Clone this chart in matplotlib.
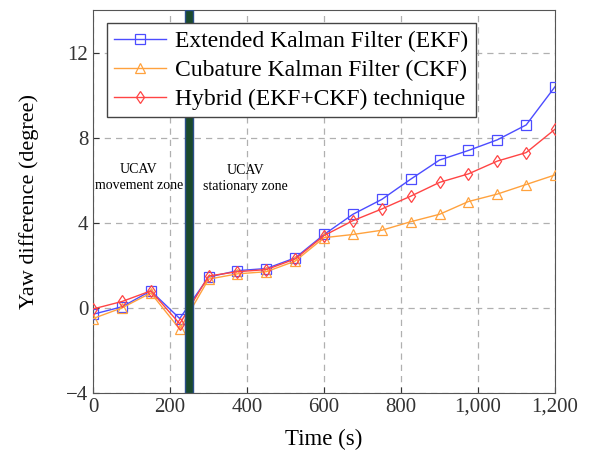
import matplotlib
matplotlib.use("Agg")
import matplotlib.pyplot as plt

time = [0, 75, 150, 225, 300, 375, 450, 525, 600, 675, 750, 825, 900, 975, 1050, 1125, 1200]
ekf = [-0.3, 0.05, 0.8, -0.5, 1.45, 1.75, 1.85, 2.35, 3.45, 4.4, 5.1, 6.05, 6.95, 7.4, 7.9, 8.6, 10.4]
ckf = [-0.5, 0.0, 0.7, -1.0, 1.35, 1.6, 1.7, 2.2, 3.3, 3.45, 3.65, 4.05, 4.4, 5.0, 5.35, 5.8, 6.25]
hyb = [-0.05, 0.3, 0.8, -0.75, 1.5, 1.7, 1.8, 2.3, 3.4, 4.1, 4.65, 5.25, 5.9, 6.3, 6.9, 7.3, 8.4]
labels = ["Extended Kalman Filter (EKF)", "Cubature Kalman Filter (CKF)", "Hybrid (EKF+CKF) technique"]
xticks = [0, 200, 400, 600, 800, 1000, 1200]
xticklabels = ["0", "200", "400", "600", "800", "1,000", "1,200"]
yticks = [-4, 0, 4, 8, 12]

plt.rcParams['font.family'] = ['Liberation Serif', 'DejaVu Serif']
plt.rcParams['axes.unicode_minus'] = True

fig = plt.figure(figsize=(5.93, 4.58), dpi=100)
ax = fig.add_axes([0.157, 0.142, 0.779, 0.836])

ax.axvspan(240, 260, facecolor='#1b4a2c', edgecolor='#2b4f8a', linewidth=1.0, zorder=4)

ax.plot(time, ekf, color='#4c4cff', marker='s', markersize=7.5, markerfacecolor='none',
        markeredgewidth=0.9, linewidth=1.0, label=labels[0], zorder=3)
ax.plot(time, ckf, color='#ffa23e', marker='^', markersize=6.5, markerfacecolor='none',
        markeredgewidth=0.9, linewidth=1.0, label=labels[1], zorder=3)
ax.plot(time, hyb, color='#ff4444', marker='d', markersize=6.5, markerfacecolor='none',
        markeredgewidth=0.9, linewidth=1.0, label=labels[2], zorder=3)

ax.set_xlim(0, 1200)
ax.set_ylim(-4, 14)
ax.set_xticks(xticks)
ax.set_xticklabels(xticklabels)
ax.set_yticks(yticks)
ax.tick_params(direction='in', labelsize=15, colors='#333333', length=4)
ax.grid(True, linestyle=(0, (5, 4)), color='#b0b0b0', linewidth=0.9)
for s in ax.spines.values():
    s.set_color('#555555')

ax.set_xlabel("Time (s)", fontsize=16.5)
ax.set_ylabel("Yaw difference (degree)", fontsize=16)
ax.yaxis.set_label_coords(-0.118, 0.5)
ax.xaxis.set_label_coords(0.5, -0.095)

ax.text(119, 6.15, "UCAV\nmovement zone", ha='center', va='center', fontsize=10, linespacing=1.3)
ax.text(396, 6.1, "UCAV\nstationary zone", ha='center', va='center', fontsize=10, linespacing=1.3)

leg = ax.legend(loc='upper left', bbox_to_anchor=(0.03, 0.965), fontsize=17, frameon=True,
                fancybox=False, edgecolor='#444444', framealpha=1, borderpad=0.3,
                labelspacing=0.32, handlelength=2.2, handletextpad=0.4, borderaxespad=0)
leg.set_zorder(5)
leg.get_frame().set_linewidth(1.0)

fig.savefig("out.png", dpi=100)
